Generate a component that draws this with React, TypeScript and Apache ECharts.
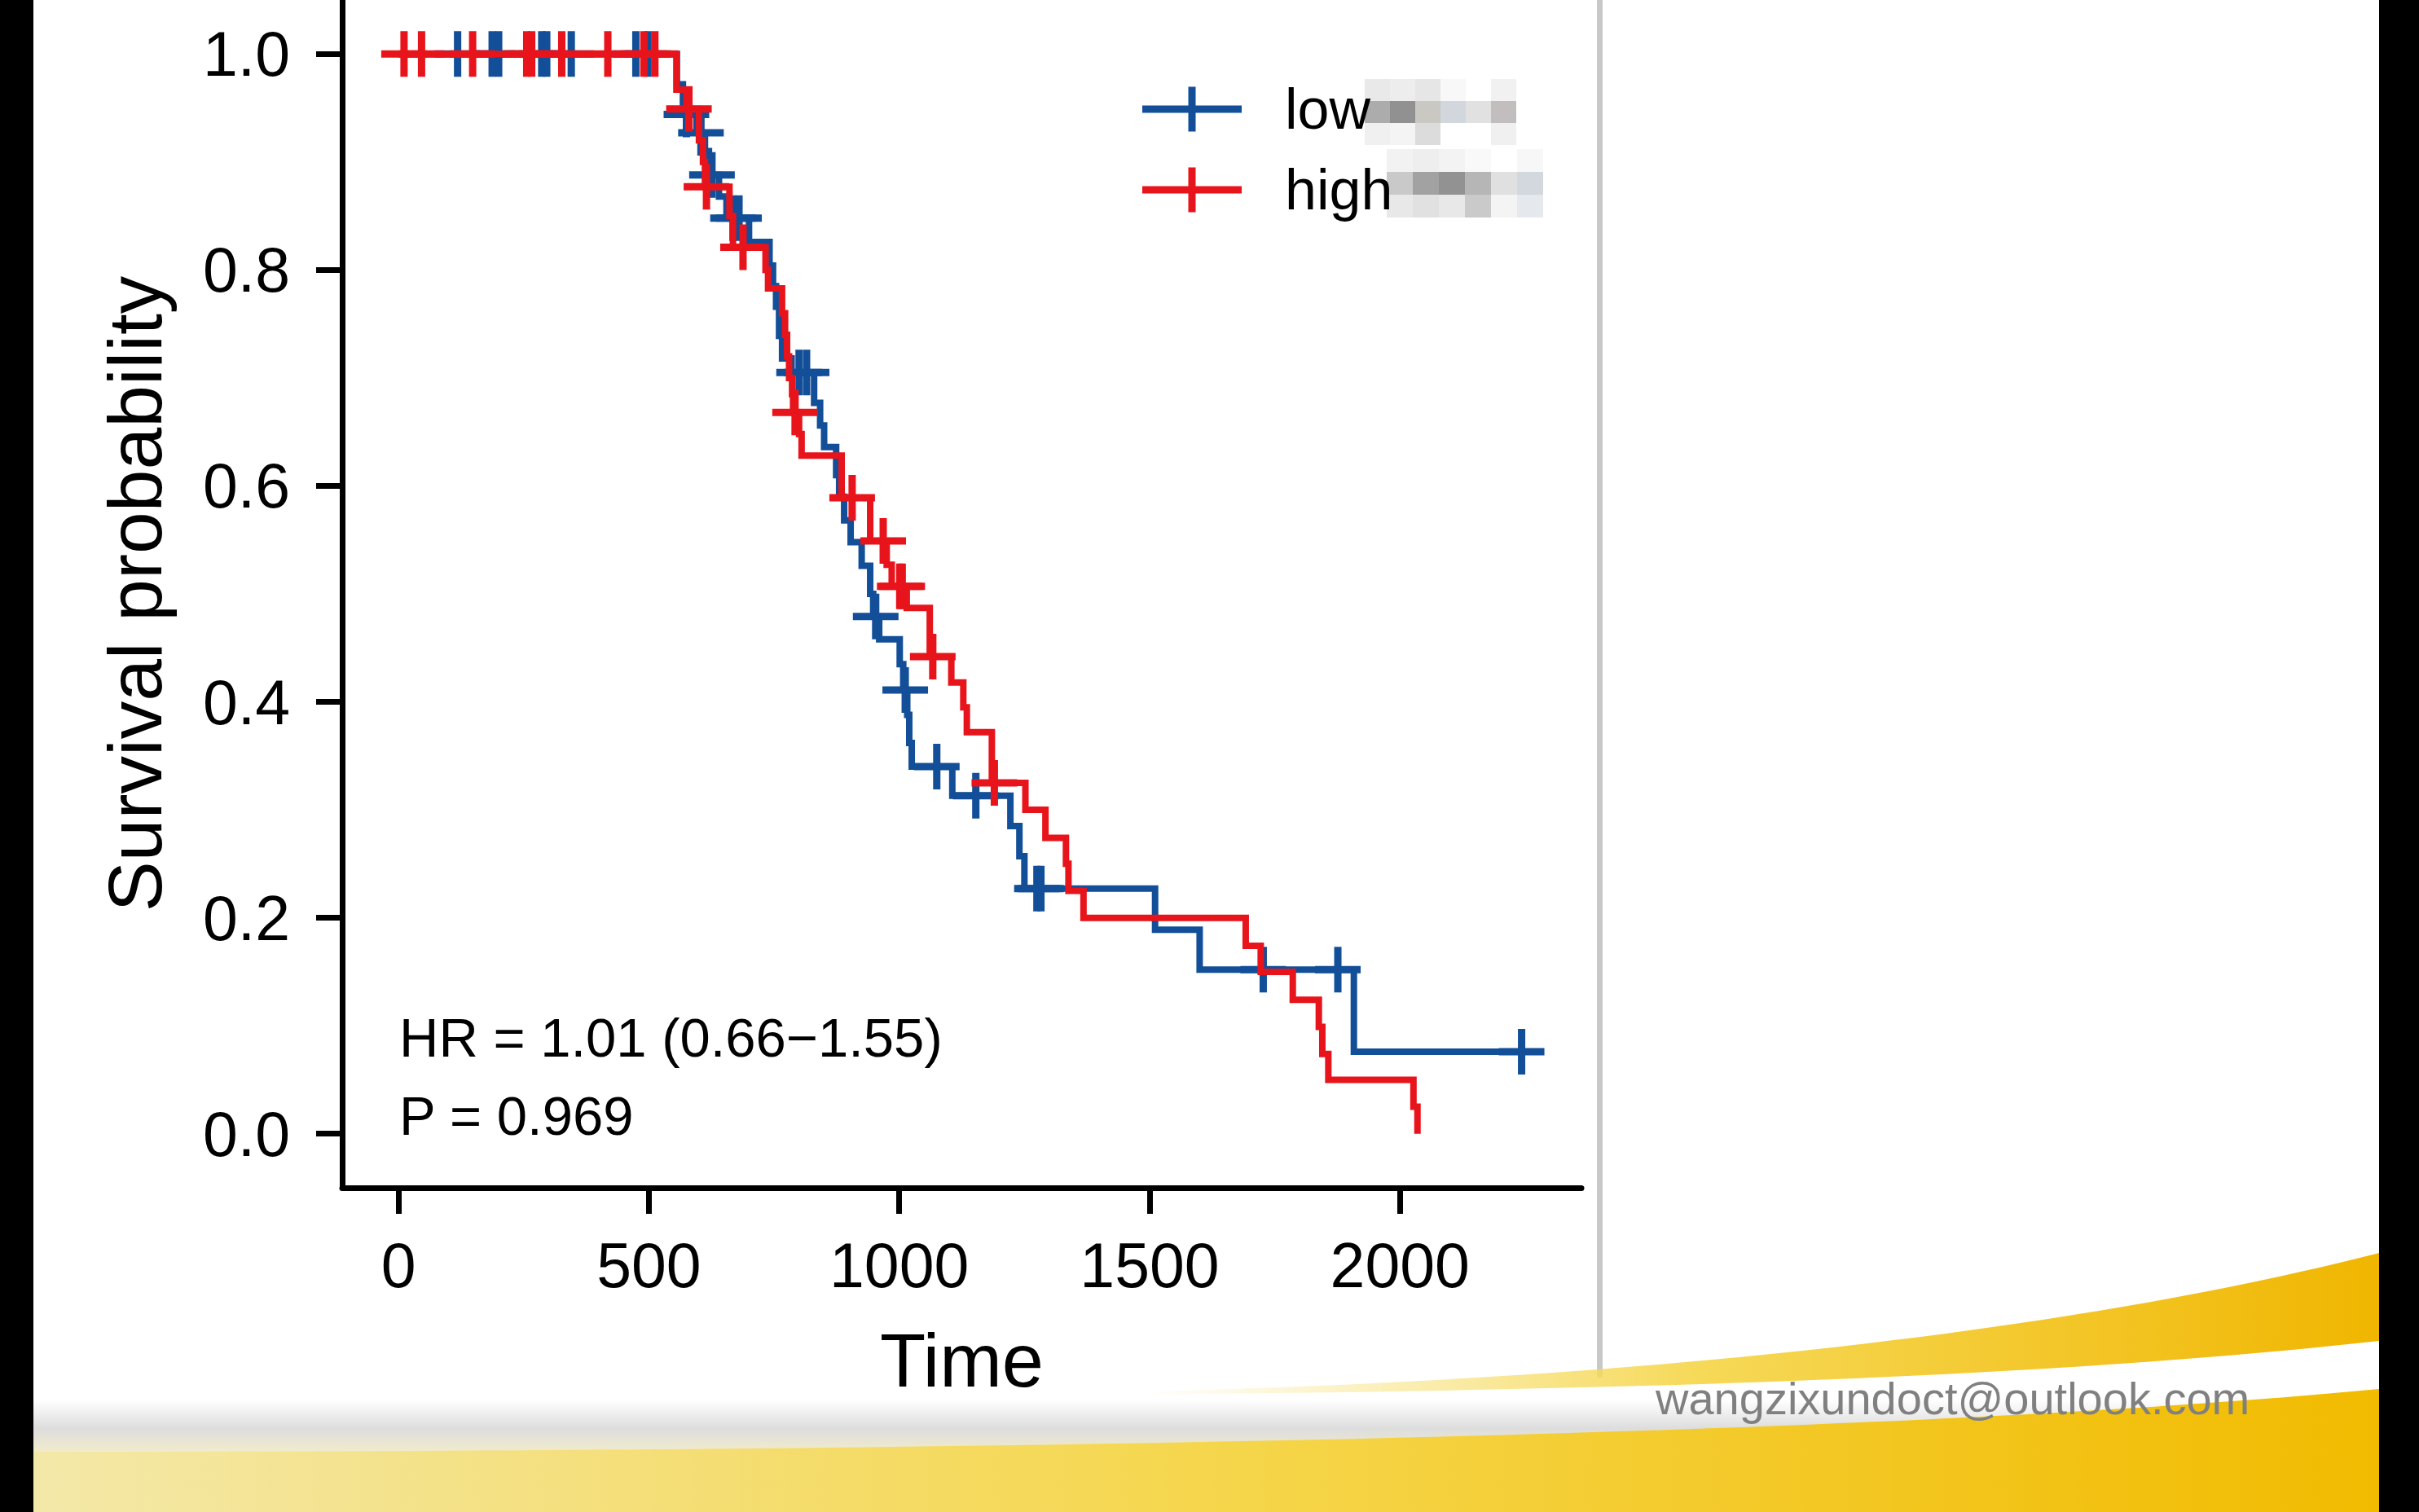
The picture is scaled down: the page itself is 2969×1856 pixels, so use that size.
import React, { useEffect, useRef } from "react";
import * as echarts from "echarts";

const W = 2969;
const H = 1856;
const FONT = "'Liberation Sans', Arial, Helvetica, sans-serif";
const BLUE = "#124f98";
const RED = "#e8141b";

// ---- tick labels ----
const xTicks = [0, 500, 1000, 1500, 2000];
const yTicks = [0, 0.2, 0.4, 0.6, 0.8, 1.0];
const groupNames = ["low", "high"];
const hrText = "HR = 1.01 (0.66\u22121.55)";
const pText = "P = 0.969";
const emailText = "wangzixundoct@outlook.com";

// ---- low group (blue) ----
const lowEventTimes = [556, 568, 595, 612, 620, 640, 655, 700, 741, 748, 754, 760, 766, 785, 830, 842, 850, 874, 880, 890, 903, 925, 942, 948, 960, 1001, 1008, 1016, 1020, 1025, 1106, 1222, 1240, 1250, 1511, 1600, 1908];
const lowEventSurv = [0.972, 0.944, 0.927, 0.91, 0.888, 0.868, 0.848, 0.826, 0.804, 0.785, 0.766, 0.739, 0.718, 0.705, 0.677, 0.656, 0.636, 0.61, 0.59, 0.568, 0.548, 0.526, 0.5, 0.479, 0.458, 0.435, 0.411, 0.388, 0.362, 0.34, 0.313, 0.285, 0.257, 0.227, 0.189, 0.152, 0.076];
const lowCensorTimes = [118, 187, 200, 286, 296, 345, 474, 498, 575, 604, 626, 668, 680, 800, 815, 953, 1012, 1075, 1153, 1275, 1283, 1727, 1876, 2243];

// ---- high group (red) ----
const highEventTimes = [555, 575, 600, 608, 612, 661, 668, 733, 738, 766, 772, 776, 780, 786, 788, 800, 805, 885, 942, 975, 985, 1015, 1061, 1104, 1128, 1135, 1185, 1252, 1292, 1333, 1338, 1368, 1692, 1722, 1786, 1838, 1845, 1857, 2027, 2035];
const highEventSurv = [0.967, 0.949, 0.92, 0.9, 0.877, 0.85, 0.821, 0.8, 0.783, 0.76, 0.74, 0.72, 0.7, 0.685, 0.668, 0.648, 0.628, 0.589, 0.549, 0.527, 0.507, 0.487, 0.442, 0.418, 0.395, 0.372, 0.325, 0.3, 0.274, 0.25, 0.225, 0.2, 0.174, 0.15, 0.124, 0.099, 0.074, 0.05, 0.025, 0];
const highCensorTimes = [11, 46, 148, 256, 266, 326, 418, 490, 512, 580, 615, 688, 792, 906, 968, 1001, 1006, 1067, 1190];

function survAt(times: number[], surv: number[], t: number) {
  let s = 1;
  for (let i = 0; i < times.length; i++) if (times[i] <= t) s = surv[i];
  return s;
}
function lineData(times: number[], surv: number[], censor: number[]) {
  const pts: number[][] = [[0, 1]];
  times.forEach((t, i) => pts.push([t, surv[i]]));
  const last = Math.max(...censor);
  if (last > times[times.length - 1]) pts.push([last, surv[surv.length - 1]]);
  return pts;
}
function censorData(times: number[], surv: number[], censor: number[]) {
  return censor.map((t) => [t, survAt(times, surv, t)]);
}

const plusPath = "path://M-4.5,-28h9v23.5h23.5v9h-23.5v23.5h-9v-23.5h-23.5v-9h23.5z";
const legendIcon = "path://M56.5,0h9v23h56.5v9h-56.5v23h-9v-23h-56.5v-9h56.5z";

const mosaicLow = [
  ["#e9e9e9", "#ededed", "#e6e6e6", "#f8f8f8", "#ffffff", "#f1f1f1"],
  ["#acacac", "#919191", "#c9c8c2", "#d2d6dd", "#e1e1e1", "#c2bebe"],
  ["#f0f0f0", "#f4f4f4", "#dcdcdc", "#ffffff", "#ffffff", "#f0f0f0"],
];
const mosaicHigh = [
  ["#f2f2f2", "#eeeeee", "#f3f3f3", "#f9f9f9", "#ffffff", "#f7f7f7"],
  ["#c9c9c9", "#a2a2a2", "#929292", "#b6b6b6", "#e0e0e0", "#d2d8de"],
  ["#e8e8e8", "#e1e1e1", "#e8e8e8", "#cacaca", "#f4f4f4", "#e5e9ed"],
];

echarts.graphic.registerShape(
  "lowerYellow",
  echarts.graphic.extendPath("M41,1778 C1200,1778 2300,1760 2920,1700 L2920,1856 L41,1856 Z", {})
);
echarts.graphic.registerShape(
  "bandShape",
  echarts.graphic.extendPath(
    "M41,1710 C1200,1710 2300,1700 2920,1640 L2920,1705 C2300,1764 1200,1782 41,1782 Z",
    {}
  )
);
echarts.graphic.registerShape(
  "crescent",
  echarts.graphic.extendPath(
    "M1400,1708 C2100,1692 2600,1620 2920,1538 L2920,1646 C2500,1692 2000,1706 1400,1712 Z",
    {}
  )
);

function mosaic(cells: string[][], x0: number, y0: number, cw: number, ch: number) {
  const out: any[] = [];
  cells.forEach((row, r) =>
    row.forEach((c, k) => {
      out.push({ type: "rect", shape: { x: x0 + k * cw, y: y0 + r * ch, width: cw, height: ch }, style: { fill: c }, z: 1 });
    })
  );
  return out;
}

export default function App() {
  const ref = useRef<HTMLDivElement>(null);
  useEffect(() => {
    document.body.style.margin = "0";
    const chart = echarts.init(ref.current!, null, { renderer: "svg", width: W, height: H });
    const axisText = { fontSize: 77, color: "#000", fontFamily: FONT };
    const option: any = {
      animation: false,
      backgroundColor: "#ffffff",
      grid: { left: 420, right: W - 1941, top: -4, bottom: H - 1458 },
      xAxis: {
        type: "value",
        min: -112.5,
        max: 2362.5,
        name: "Time",
        nameLocation: "middle",
        nameGap: 166,
        nameTextStyle: { fontSize: 92, color: "#000", fontFamily: FONT },
        axisLine: { onZero: false, lineStyle: { color: "#000", width: 7 } },
        axisTick: { customValues: xTicks, length: 32, lineStyle: { color: "#000", width: 7 } },
        axisLabel: { customValues: xTicks, margin: 56, formatter: (v: number) => String(v), ...axisText },
        splitLine: { show: false },
      },
      yAxis: {
        type: "value",
        min: -0.05,
        max: 1.05,
        name: "Survival probability",
        nameLocation: "middle",
        nameRotate: 90,
        nameGap: 208,
        nameTextStyle: { fontSize: 93, color: "#000", fontFamily: FONT },
        axisLine: { onZero: false, lineStyle: { color: "#000", width: 7 } },
        axisTick: { customValues: yTicks, length: 32, lineStyle: { color: "#000", width: 7 } },
        axisLabel: { customValues: yTicks, margin: 64, formatter: (v: number) => v.toFixed(1), ...axisText },
        splitLine: { show: false },
      },
      legend: {
        orient: "vertical",
        left: 1397,
        top: 94,
        itemWidth: 122,
        itemHeight: 55,
        itemGap: 29,
        icon: legendIcon,
        selectedMode: false,
        data: [
          { name: groupNames[0], itemStyle: { color: BLUE, borderWidth: 0, opacity: 1 } },
          { name: groupNames[1], itemStyle: { color: RED, borderWidth: 0, opacity: 1 } },
        ],
        textStyle: { fontSize: 70, color: "#000", fontFamily: FONT, padding: [0, 0, 0, 48] },
      },
      series: [
        {
          name: groupNames[0],
          type: "line",
          step: "end",
          symbol: "none",
          color: BLUE,
          lineStyle: { width: 8, color: BLUE, join: "miter" },
          data: lineData(lowEventTimes, lowEventSurv, lowCensorTimes),
          z: 2,
        },
        {
          name: groupNames[0],
          type: "scatter",
          symbol: plusPath,
          symbolSize: 56,
          itemStyle: { color: BLUE, opacity: 1 },
          data: censorData(lowEventTimes, lowEventSurv, lowCensorTimes),
          z: 2,
          silent: true,
        },
        {
          name: groupNames[1],
          type: "line",
          step: "end",
          symbol: "none",
          color: RED,
          lineStyle: { width: 8, color: RED, join: "miter" },
          data: lineData(highEventTimes, highEventSurv, highCensorTimes),
          z: 3,
        },
        {
          name: groupNames[1],
          type: "scatter",
          symbol: plusPath,
          symbolSize: 56,
          itemStyle: { color: RED, opacity: 1 },
          data: censorData(highEventTimes, highEventSurv, highCensorTimes),
          z: 3,
          silent: true,
        },
      ],
      graphic: [
        { type: "rect", shape: { x: 1960, y: 0, width: 7, height: 1715 }, style: { fill: "#c8c8c8" }, z: 0 },
        {
          type: "lowerYellow",
          style: {
            fill: new echarts.graphic.LinearGradient(0, 0, 1, 0, [
              { offset: 0, color: "#f3e8a8" },
              { offset: 0.5, color: "#f5d64c" },
              { offset: 1, color: "#f1bb00" },
            ]),
          },
          z: 0,
        },
        {
          type: "bandShape",
          style: {
            fill: new echarts.graphic.LinearGradient(0, 0, 0, 1, [
              { offset: 0, color: "#ffffff" },
              { offset: 0.55, color: "#ffffff" },
              { offset: 0.8, color: "#dddddd" },
              { offset: 1, color: "#f1ebcc" },
            ]),
          },
          z: 0,
        },
        {
          type: "crescent",
          style: {
            fill: new echarts.graphic.LinearGradient(0, 0, 1, 0, [
              { offset: 0, color: "rgba(246,220,100,0)" },
              { offset: 0.45, color: "#f6d958" },
              { offset: 1, color: "#f0b600" },
            ]),
          },
          z: 0,
        },
        { type: "rect", shape: { x: 0, y: 0, width: 41, height: H }, style: { fill: "#000" }, z: 5 },
        { type: "rect", shape: { x: 2920, y: 0, width: W - 2920, height: H }, style: { fill: "#000" }, z: 5 },
        ...mosaic(mosaicLow, 1675, 97, 31, 27),
        ...mosaic(mosaicHigh, 1702, 183, 32, 28),
        {
          type: "text",
          x: 490,
          y: 1273,
          style: { text: hrText, fontSize: 67, fill: "#000", fontFamily: FONT, align: "left", verticalAlign: "middle" },
          z: 6,
        },
        {
          type: "text",
          x: 490,
          y: 1369,
          style: { text: pText, fontSize: 67, fill: "#000", fontFamily: FONT, align: "left", verticalAlign: "middle" },
          z: 6,
        },
        {
          type: "text",
          x: 2032,
          y: 1716,
          style: { text: emailText, fontSize: 56, fill: "#808080", fontFamily: FONT, align: "left", verticalAlign: "middle" },
          z: 6,
        },
      ],
    };
    chart.setOption(option);
    return () => chart.dispose();
  }, []);
  return <div ref={ref} style={{ position: "absolute", left: 0, top: 0, width: W, height: H }} />;
}
